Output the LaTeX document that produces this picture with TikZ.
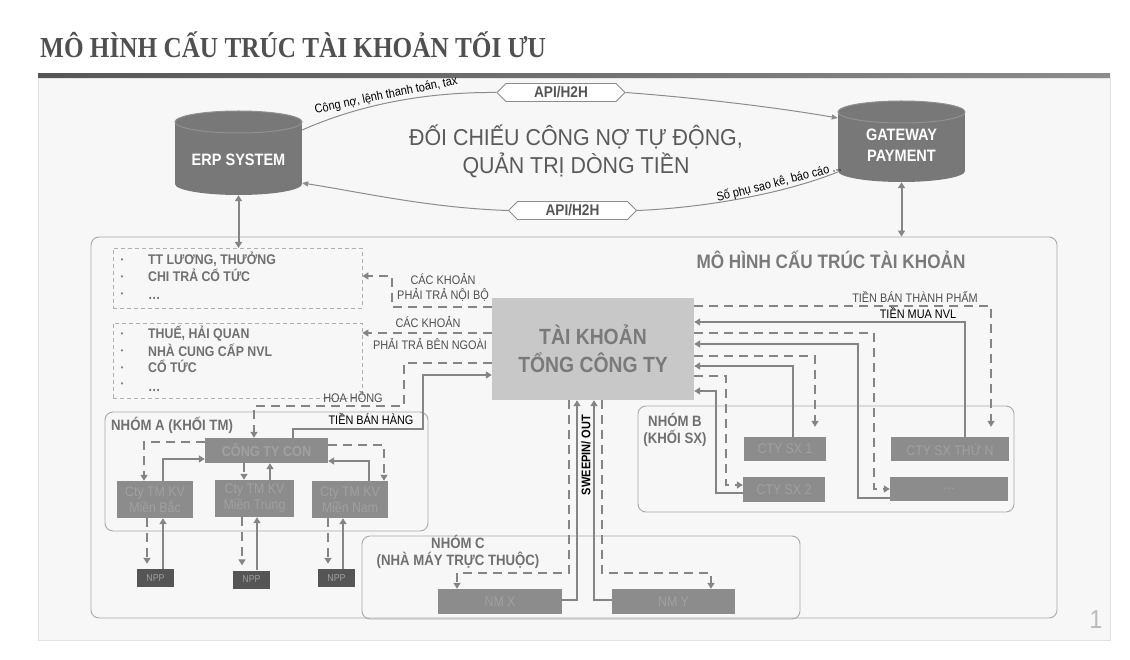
\documentclass[tikz,border=0pt]{standalone}
\usepackage{fontspec}
\setmainfont{Liberation Sans}
\newfontfamily\nsans[FakeStretch=0.88]{Liberation Sans}
\newfontfamily\msans[FakeStretch=0.93]{Liberation Sans}
\newfontfamily\tserif[FakeStretch=0.87]{Liberation Serif}
\usetikzlibrary{arrows.meta,shapes.symbols,calc}
\definecolor{titlec}{HTML}{505050}
\definecolor{barL}{HTML}{555555}
\definecolor{barR}{HTML}{8C8C8C}
\definecolor{panel}{HTML}{F7F7F7}
\definecolor{panelb}{HTML}{E2E2E2}
\definecolor{cylc}{HTML}{787878}
\definecolor{cyltop}{HTML}{909090}
\definecolor{apib}{HTML}{8C8C8C}
\definecolor{apit}{HTML}{555555}
\definecolor{curvec}{HTML}{8C8C8C}
\definecolor{bigt}{HTML}{5A5A5A}
\definecolor{tkfill}{HTML}{C8C8C8}
\definecolor{tkt}{HTML}{7A7A7A}
\definecolor{boxfill}{HTML}{8C8C8C}
\definecolor{boxt}{HTML}{A0A0A0}
\definecolor{nppfill}{HTML}{555555}
\definecolor{nppt}{HTML}{A0A0A0}
\definecolor{connc}{HTML}{858585}
\definecolor{grpb}{HTML}{A8A8A8}
\definecolor{lboxb}{HTML}{B0B0B0}
\definecolor{itemt}{HTML}{707070}
\definecolor{lblt}{HTML}{505050}
\definecolor{pagenum}{HTML}{BBBBBB}
\newcommand\fsz[2]{\fontsize{#1}{#2}\selectfont}
\begin{document}
\begin{tikzpicture}[x=1pt,y=-1pt,
  tip/.style={-{Triangle[length=6pt,width=7pt]}},
  ttip/.style={-{Triangle[length=6pt,width=5pt]}},
  dtip/.style={{Triangle[length=6pt,width=7pt]}-{Triangle[length=6pt,width=7pt]}},
  sconn/.style={draw=connc, line width=2.4pt},
  dconn/.style={draw=connc, line width=2.6pt, dash pattern=on 9pt off 6pt},
  curve/.style={draw=curvec, line width=1pt},
  api/.style={signal, signal to=west and east, draw=apib, fill=white, line width=0.8pt,
    minimum width=128, minimum height=18, inner sep=0, font=\nsans\bfseries\fsz{15.5}{15.5}, text=apit},
  sbox/.style={fill=boxfill, text=boxt, inner sep=0, font=\nsans\fsz{14}{16}, align=center},
  nppbox/.style={fill=nppfill, text=nppt, inner sep=0, font=\nsans\fsz{10}{10}, minimum width=37, minimum height=18},
  grp/.style={draw=grpb, line width=0.9pt, rounded corners=8pt, inner sep=0},
  lbox/.style={draw=lboxb, line width=0.8pt, dash pattern=on 4pt off 3pt, inner sep=0},
  item/.style={anchor=west, inner sep=0, text height=9pt, text depth=1pt, text=itemt, font=\nsans\bfseries\fsz{14}{14}},
  bul/.style={inner sep=0, text=itemt, font=\nsans\fsz{8}{8}},
  lbl/.style={inner sep=0, text=lblt, font=\nsans\fsz{12.4}{15}, align=center},
  clbl/.style={inner sep=0, text=black, font=\nsans\fsz{12.5}{13}},
  glbl/.style={inner sep=0, text=itemt, font=\nsans\bfseries\fsz{15}{17}, align=center}
]
\useasboundingbox (0,0) rectangle (1130,660);
\fill[white] (0,0) rectangle (1130,660);
% panel and bar
\filldraw[fill=panel, draw=panelb, line width=0.8pt] (38,78) rectangle (1110,640);
\shade[left color=barL, right color=barR] (38,74) rectangle (1110,78);
\node[anchor=base west, inner sep=0, text=titlec, font=\tserif\bfseries\fsz{29}{30}] (title) at (40,58) {MÔ HÌNH CẤU TRÚC TÀI KHOẢN TỐI ƯU};
\node[inner sep=0, text=pagenum, font=\nsans\fsz{26}{26}] (pnum) at (1096,620) {1};

% cylinders
\fill[cylc] (175,122) rectangle (302,184);
\fill[cylc] (238.5,184) ellipse [x radius=63.5, y radius=11];
\filldraw[fill=cylc, draw=cyltop, line width=1pt] (238.5,122) ellipse [x radius=63.5, y radius=11];
\node[inner sep=0, minimum width=127, minimum height=70, text=white, font=\nsans\bfseries\fsz{16.5}{18}] (erp) at (238.5,160) {ERP SYSTEM};

\fill[cylc] (838,112) rectangle (965,171);
\fill[cylc] (901.5,171) ellipse [x radius=63.5, y radius=11];
\filldraw[fill=cylc, draw=cyltop, line width=1pt] (901.5,112) ellipse [x radius=63.5, y radius=11];
\node[inner sep=0, minimum width=127, minimum height=74, text=white, align=center, font=\nsans\bfseries\fsz{16.5}{21}] (gw) at (901.5,145) {GATEWAY\\PAYMENT};

% API boxes
\node[api] (api1) at (561,92.5) {API/H2H};
\node[api] (api2) at (572.5,210.5) {API/H2H};

\draw[curve] (erp.east |- 0,130) .. controls (370,100) and (440,92) .. (api1.west)
  node[pos=0.42, sloped, above=1pt, clbl] {Công nợ, lệnh thanh toán, tax};
\draw[curve, ttip] (api1.east) .. controls (700,98) and (780,108) .. (gw.west |- 0,118);
\draw[curve] (gw.west |- 0,172) .. controls (780,195) and (700,208) .. (api2.east)
  node[pos=0.3, sloped, above=1pt, clbl] {Số phụ sao kê, báo cáo ...};
\draw[curve, ttip] (api2.west) .. controls (430,208) and (360,192) .. (erp.east |- 0,183);

\node[inner sep=0, text=bigt, align=center, font=\msans\fsz{23}{28}] (bigtext) at (576,151) {ĐỐI CHIẾU CÔNG NỢ TỰ ĐỘNG,\\QUẢN TRỊ DÒNG TIỀN};

% container
\node[grp, minimum width=966, minimum height=381] (cont) at (574,427.5) {};
\node[inner sep=0, text=tkt, font=\nsans\bfseries\fsz{19.5}{20}] (conttitle) at (831,260) {MÔ HÌNH CẤU TRÚC TÀI KHOẢN};
\draw[sconn, line width=2pt, dtip] (erp.south) -- (erp.south |- 0,248);
\draw[sconn, line width=2pt, dtip] (gw.south) -- (gw.south |- cont.north);

% list boxes
\node[lbox, minimum width=249, minimum height=60] (l1) at (237.5,278) {};
\node[lbox, minimum width=249, minimum height=75] (l2) at (237.5,360.5) {};
\node[bul] (b11) at (122,261) {•};
\node[bul] (b12) at (122,278) {•};
\node[bul] (b13) at (122,295) {•};
\node[item] (i11) at (148,261) {TT LƯƠNG, THƯỞNG};
\node[item] (i12) at (148,278) {CHI TRẢ CỔ TỨC};
\node[item] (i13) at (148,296) {…};
\node[bul] (b21) at (122,335) {•};
\node[bul] (b22) at (122,352) {•};
\node[bul] (b23) at (122,369) {•};
\node[bul] (b24) at (122,385) {•};
\node[item] (i21) at (148,335) {THUẾ, HẢI QUAN};
\node[item] (i22) at (148,352) {NHÀ CUNG CẤP NVL};
\node[item] (i23) at (148,369) {CỔ TỨC};
\node[item] (i24) at (148,387) {…};

% main account
\node[fill=tkfill, text=tkt, font=\nsans\bfseries\fsz{22}{28}, align=center, minimum width=202, minimum height=102, inner sep=0] (tk) at (593,349) {TÀI KHOẢN\\TỔNG CÔNG TY};

% groups
\node[grp, minimum width=323, minimum height=119] (grpA) at (266.5,471.5) {};
\node[grp, minimum width=376, minimum height=106] (grpB) at (826,459) {};
\node[grp, minimum width=438, minimum height=83] (grpC) at (581,577.5) {};
\node[glbl, anchor=west] (lblA) at (111,425) {NHÓM A (KHỐI TM)};
\node[glbl] (lblB) at (675,430) {NHÓM B\\(KHỐI SX)};
\node[glbl] (lblC) at (458,552) {NHÓM C\\(NHÀ MÁY TRỰC THUỘC)};

% group A boxes
\node[sbox, minimum width=123, minimum height=25, font=\nsans\bfseries\fsz{14.4}{15}] (ctycon) at (266.5,450.5) {CÔNG TY CON};
\node[sbox, minimum width=76, minimum height=37] (bac) at (155,499.5) {Cty TM  KV\\Miền Bắc};
\node[sbox, minimum width=79, minimum height=37] (trung) at (254.5,498.5) {Cty TM  KV\\Miền Trung};
\node[sbox, minimum width=76, minimum height=37] (nam) at (350,499.5) {Cty TM  KV\\Miền Nam};
\node[nppbox] (npp1) at (155.5,578) {NPP};
\node[nppbox] (npp2) at (251.5,579.5) {NPP};
\node[nppbox] (npp3) at (336.5,578) {NPP};

% group B boxes
\node[sbox, minimum width=82, minimum height=24] (sx1) at (785,449) {CTY SX 1};
\node[sbox, minimum width=82, minimum height=25] (sx2) at (784,489.5) {CTY SX 2};
\node[sbox, minimum width=118, minimum height=24] (sxn) at (950,449) {CTY SX THỨ N};
\node[sbox, minimum width=118, minimum height=24] (sxd) at (949,489) {…};

% group C boxes
\node[sbox, minimum width=124, minimum height=25] (nmx) at (500,601.5) {NM X};
\node[sbox, minimum width=123, minimum height=25] (nmy) at (673.5,601.5) {NM Y};

% connectors: left side
\draw[dconn, tip] (tk.west |- 0,307) -| (392,276) -- (l1.east |- 0,276);
\draw[dconn, tip] (tk.west |- 0,333) -- (l2.east |- 0,333);
\node[lbl] (lb1) at (443,287) {CÁC KHOẢN\\PHẢI TRẢ NỘI BỘ};
\node[lbl] (lb2a) at (428,322) {CÁC KHOẢN};
\node[lbl] (lb2b) at (430,344) {PHẢI TRẢ BÊN NGOÀI};
\draw[dconn, tip] (tk.west |- 0,363) -| (404,406) -| (ctycon.north -| 254,0);
\draw[sconn, tip] (ctycon.north -| 293,0) |- (423,429) |- (tk.west |- 0,375);
\node[lbl] (lb3) at (353,397) {HOA HỒNG};
\node[lbl, text=black] (lb4) at (371,419) {TIỀN BÁN HÀNG};

% group A internal
\draw[dconn, tip] (ctycon.west |- 0,442) -| (bac.north -| 144,0);
\draw[sconn, tip] (bac.north -| 163,0) |- (ctycon.west |- 0,459);
\draw[dconn, tip] (ctycon.south -| 244,0) -- (trung.north -| 244,0);
\draw[sconn, tip] (trung.north -| 270,0) -- (ctycon.south -| 270,0);
\draw[dconn, tip] (ctycon.east |- 0,445) -| (nam.north -| 384,0);
\draw[sconn, tip] (nam.north -| 369,0) |- (ctycon.east |- 0,461);
\draw[dconn, tip, shorten >=5pt] (bac.south -| 147,0) -- (npp1.north -| 147,0);
\draw[sconn, tip] (npp1.north -| 163,0) -- (bac.south -| 163,0);
\draw[dconn, tip, shorten >=5pt] (trung.south -| 242,0) -- (npp2.north -| 242,0);
\draw[sconn, tip] (npp2.north -| 257,0) -- (trung.south -| 257,0);
\draw[dconn, tip, shorten >=5pt] (nam.south -| 328,0) -- (npp3.north -| 328,0);
\draw[sconn, tip] (npp3.north -| 343,0) -- (nam.south -| 343,0);

% group B connectors
\draw[dconn, tip, shorten >=10pt] (tk.east |- 0,306) -| (sxn.north -| 991,0);
\draw[sconn, tip] (sxn.north -| 965,0) |- (tk.east |- 0,322);
\draw[dconn, tip] (tk.east |- 0,333) -| (874,489) -- (sxd.west |- 0,489);
\draw[sconn, tip] (sxd.west |- 0,498) -| (858,344) -- (tk.east |- 0,344);
\draw[dconn, tip, shorten >=10pt] (tk.east |- 0,356) -| (sx1.north -| 815,0);
\draw[sconn, tip] (sx1.north -| 793,0) |- (tk.east |- 0,366);
\draw[dconn, tip] (tk.east |- 0,376) -| (726,485) -- (sx2.west |- 0,485);
\draw[sconn, tip] (sx2.west |- 0,493) -| (716,391) -- (tk.east |- 0,391);
\node[lbl] (lb5) at (915,297) {TIỀN BÁN THÀNH PHẨM};
\node[lbl, text=black] (lb6) at (918,313) {TIỀN MUA NVL};

% group C connectors
\draw[dconn, tip] (tk.south -| 569,0) |- (457,573) -- (nmx.north -| 457,0);
\draw[sconn, tip] (nmx.east |- 0,600) -| (tk.south -| 577,0);
\draw[sconn, tip] (nmy.west |- 0,600) -| (tk.south -| 594,0);
\draw[dconn, tip] (tk.south -| 602,0) |- (711,573) -- (nmy.north -| 711,0);
\node[inner sep=0, rotate=90, text=black, font=\nsans\bfseries\fsz{12.5}{12.5}] (sweep) at (586,455) {SWEEPIN/ OUT};
\end{tikzpicture}
\end{document}
